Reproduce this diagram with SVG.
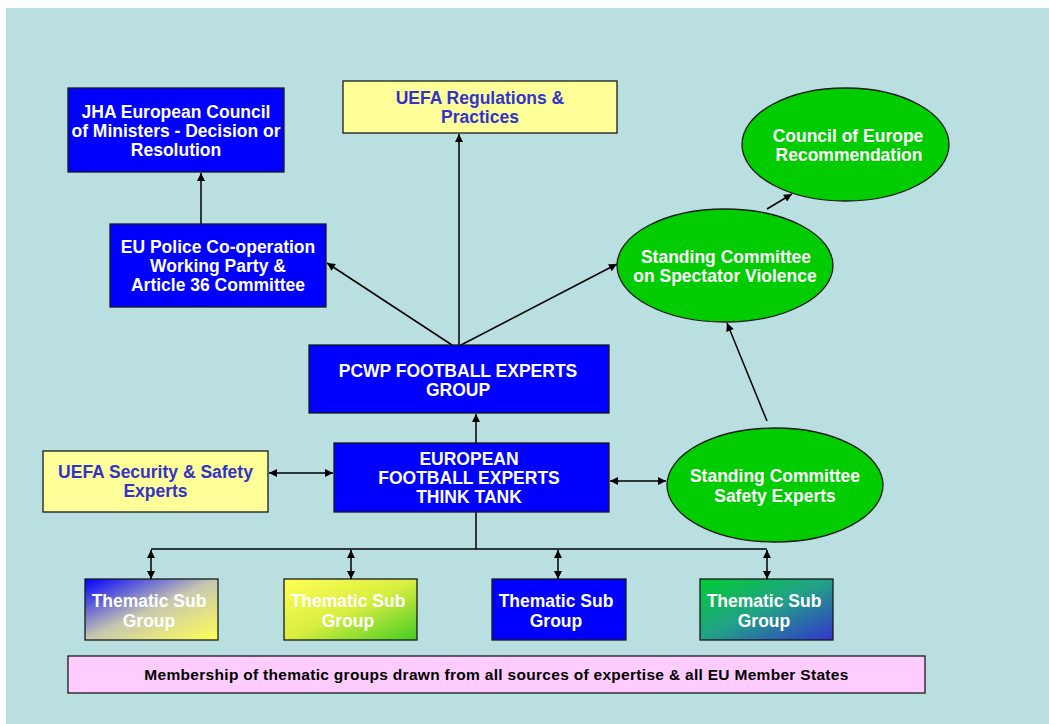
<svg xmlns="http://www.w3.org/2000/svg" width="1049" height="724" viewBox="0 0 1049 724">
<defs>
<style>
.t{font-family:"Liberation Sans",Arial,sans-serif;font-weight:bold;font-size:17.5px;text-anchor:middle}
.w{fill:#FFFFFF}
.b{fill:#3333CC}
.k{fill:#000000}
.box{stroke:#1a1a1a;stroke-width:1.3}
.blue{fill:#0000FF}
.yel{fill:#FFFF99}
.grn{fill:#00CC00}
.c{stroke:#000;stroke-width:1.5;fill:none}
.e{marker-end:url(#ah)}
.d{marker-start:url(#ah);marker-end:url(#ah)}
</style>
<marker id="ah" viewBox="0 0 10 10" refX="10" refY="5" markerWidth="10" markerHeight="8" markerUnits="userSpaceOnUse" orient="auto-start-reverse">
<path d="M0,0 L10,5 L0,10 z" fill="#000"/>
</marker>
<linearGradient id="g1" x1="0" y1="0" x2="1" y2="1">
<stop offset="0" stop-color="#0000FF"/>
<stop offset="0.5" stop-color="#C8C8B0"/>
<stop offset="1" stop-color="#FFFF55"/>
</linearGradient>
<linearGradient id="g2" x1="0" y1="0" x2="1" y2="1">
<stop offset="0" stop-color="#FFFF55"/>
<stop offset="0.5" stop-color="#D8EE40"/>
<stop offset="1" stop-color="#44CC22"/>
</linearGradient>
<linearGradient id="g4" x1="0" y1="0" x2="1" y2="1">
<stop offset="0" stop-color="#00CC33"/>
<stop offset="0.5" stop-color="#22A088"/>
<stop offset="1" stop-color="#3333CC"/>
</linearGradient>
</defs>
<rect x="6" y="8" width="1043" height="716" fill="#B9DFE1"/>

<g id="connectors">
<line class="c e" x1="201" y1="224" x2="201" y2="173"/>
<line class="c e" x1="459" y1="345" x2="459" y2="134"/>
<line class="c e" x1="452" y1="345" x2="327" y2="263"/>
<line class="c e" x1="461" y1="345" x2="617" y2="264"/>
<line class="c e" x1="767" y1="209" x2="792" y2="194"/>
<line class="c e" x1="767" y1="421" x2="727" y2="323"/>
<line class="c e" x1="476" y1="443" x2="476" y2="414"/>
<line class="c d" x1="269" y1="473" x2="333" y2="473"/>
<line class="c d" x1="610" y1="481" x2="666" y2="481"/>
<line class="c" x1="476" y1="512" x2="476" y2="549"/>
<line class="c" x1="151" y1="549" x2="767" y2="549"/>
<line class="c d" x1="151" y1="550" x2="151" y2="579"/>
<line class="c d" x1="351" y1="550" x2="351" y2="579"/>
<line class="c d" x1="558" y1="550" x2="558" y2="579"/>
<line class="c d" x1="767" y1="550" x2="767" y2="579"/>
</g>

<g id="jha">
<rect class="box blue" x="68" y="88" width="216" height="84"/>
<text class="t w" x="176" y="117.5">JHA European Council</text>
<text class="t w" x="176" y="136.5">of Ministers - Decision or</text>
<text class="t w" x="176" y="155.5">Resolution</text>
</g>

<g id="eu-police">
<rect class="box blue" x="110" y="224" width="216" height="83"/>
<text class="t w" x="218" y="253">EU Police Co-operation</text>
<text class="t w" x="218" y="272">Working Party &amp;</text>
<text class="t w" x="218" y="291">Article 36 Committee</text>
</g>

<g id="uefa-regs">
<rect class="box yel" x="343" y="81" width="274" height="52"/>
<text class="t b" x="480" y="104">UEFA Regulations &amp;</text>
<text class="t b" x="480" y="123">Practices</text>
</g>

<g id="coe">
<ellipse class="box grn" cx="845.5" cy="144.5" rx="103.5" ry="56.5"/>
<text class="t w" x="848" y="142">Council of Europe</text>
<text class="t w" x="849" y="161">Recommendation</text>
</g>

<g id="spectator">
<ellipse class="box grn" cx="725" cy="265.5" rx="108" ry="56.5"/>
<text class="t w" x="726" y="263">Standing Committee</text>
<text class="t w" x="725" y="282">on Spectator Violence</text>
</g>

<g id="pcwp">
<rect class="box blue" x="309" y="345" width="300" height="68"/>
<text class="t w" x="458" y="376.5">PCWP FOOTBALL EXPERTS</text>
<text class="t w" x="458" y="395.5">GROUP</text>
</g>

<g id="think-tank">
<rect class="box blue" x="334" y="443" width="275" height="69"/>
<text class="t w" x="469" y="465">EUROPEAN</text>
<text class="t w" x="469" y="484">FOOTBALL EXPERTS</text>
<text class="t w" x="469" y="503">THINK TANK</text>
</g>

<g id="uefa-security">
<rect class="box yel" x="43" y="451" width="225" height="61"/>
<text class="t b" x="155.5" y="478">UEFA Security &amp; Safety</text>
<text class="t b" x="155.5" y="497">Experts</text>
</g>

<g id="safety">
<ellipse class="box grn" cx="775" cy="485" rx="108" ry="57"/>
<text class="t w" x="775" y="482">Standing Committee</text>
<text class="t w" x="775" y="501.5">Safety Experts</text>
</g>

<g id="thematic-1">
<rect class="box" fill="url(#g1)" x="85" y="579" width="133" height="61"/>
<text class="t w" x="149" y="607">Thematic Sub</text>
<text class="t w" x="149" y="626.5">Group</text>
</g>

<g id="thematic-2">
<rect class="box" fill="url(#g2)" x="284" y="579" width="133" height="61"/>
<text class="t w" x="348" y="607">Thematic Sub</text>
<text class="t w" x="348" y="626.5">Group</text>
</g>

<g id="thematic-3">
<rect class="box blue" x="492" y="579" width="134" height="61"/>
<text class="t w" x="556" y="607">Thematic Sub</text>
<text class="t w" x="556" y="626.5">Group</text>
</g>

<g id="thematic-4">
<rect class="box" fill="url(#g4)" x="700" y="579" width="133" height="61"/>
<text class="t w" x="764" y="607">Thematic Sub</text>
<text class="t w" x="764" y="626.5">Group</text>
</g>

<g id="membership">
<rect class="box" fill="#FFCCFF" x="68" y="656" width="857" height="37"/>
<text class="t k" style="font-size:15.5px;letter-spacing:0.3px" x="496.5" y="680">Membership of thematic groups drawn from all sources of expertise &amp; all EU Member States</text>
</g>
</svg>
